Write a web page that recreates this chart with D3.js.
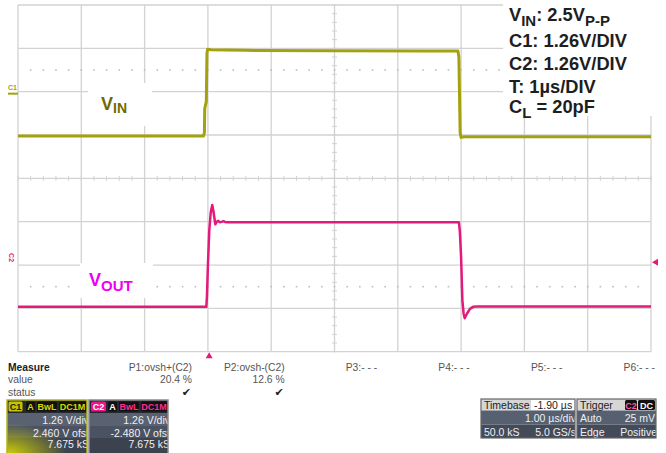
<!DOCTYPE html>
<html><head><meta charset="utf-8">
<script src="https://cdn.jsdelivr.net/npm/d3@7"></script>
<style>
body{margin:0;background:#fff}
svg{display:block;font-family:"Liberation Sans",Arial,Helvetica,sans-serif}
</style>
</head><body>
<svg id="chart" width="666" height="453"></svg>
<script>
// ---------------- data ----------------
// Channel 1 (VIN), time in µs (0..10 across screen), volts
const vinTime  = [0, 1.0, 2.0, 2.93, 2.945, 2.95, 2.975, 2.985, 2.995, 3.05, 3.3, 3.6, 5.0, 6.5, 6.95, 6.965, 6.975, 6.985, 7.0, 7.05, 7.5, 8.5, 10];
const vinVolts = [0, 0.0, 0.0, 0.0, 0.10, 0.80, 1.00, 2.40, 2.52, 2.51, 2.50, 2.49, 2.48, 2.47, 2.47, 2.30, 1.20, 0.10, -0.04, -0.02, -0.02, -0.02, -0.02];
// Channel 2 (VOUT)
const voutTime  = [0, 1.0, 2.0, 2.975, 2.985, 3.0, 3.022, 3.045, 3.069, 3.09, 3.117, 3.14, 3.164, 3.19, 3.218, 3.245, 3.27, 3.32, 4.5, 6.0, 6.965, 6.98, 7.0, 7.02, 7.04, 7.057, 7.08, 7.109, 7.14, 7.188, 7.25, 8.5, 10];
const voutVolts = [0, 0.0, 0.0, 0.0, 0.30, 1.20, 2.23, 2.75, 2.96, 2.75, 2.40, 2.47, 2.50, 2.46, 2.47, 2.49, 2.47, 2.46, 2.46, 2.46, 2.46, 2.20, 1.45, 0.19, -0.20, -0.33, -0.24, -0.15, -0.06, 0.0, 0.01, 0.01, 0.01];

const voltsPerDiv = [1.26, 1.26];
const chZeroDiv   = [0.977, -2.965];   // where 0 V of each channel sits, in divisions from centre
const triggerTime = 3.02;              // µs
const triggerLevel = 1.3;              // V on C2 (screen marker)
const channelMarkDiv = [2.0, -1.84];

const noteLines = [
  [["V",0],["IN",1],[": 2.5V",0],["P-P",1]],
  [["C1: 1.26V/DIV",0]],
  [["C2: 1.26V/DIV",0]],
  [["T: 1µs/DIV",0]],
  [["C",0],["L",1],[" = 20pF",0]]
];
const measureNames  = ["P1:ovsh+(C2)","P2:ovsh-(C2)","P3:- - -","P4:- - -","P5:- - -","P6:- - -"];
const measureValues = ["20.4 %","12.6 %","","","",""];
const measureStatus = ["✔","✔","","","",""];
const rowLabels = ["Measure","value","status"];

const ch1Info = ["1.26 V/div","2.460 V ofst","7.675 kS"];
const ch2Info = ["1.26 V/div","-2.480 V ofst","7.675 kS"];
const timebaseInfo = ["Timebase","-1.90 µs","1.00 µs/div","50.0 kS","5.0 GS/s"];
const triggerInfo  = ["Trigger","Auto","25 mV","Edge","Positive"];

// ---------------- layout ----------------
const svg = d3.select("#chart");
const W = 666, H = 453;
const plot = {l:18, r:651, t:5, b:351.7};
const x = d3.scaleLinear().domain([0,10]).range([plot.l, plot.r]);
const yDiv = d3.scaleLinear().domain([-4,4]).range([plot.b, plot.t]);
const chY = c => v => yDiv(v / voltsPerDiv[c] + chZeroDiv[c]);

const gridColor = "#d2d2d2";
const yellow = "#a3a10c", pink = "#e3197c";

svg.append("rect").attr("width",W).attr("height",H).attr("fill","#fff");

// grid
const grid = svg.append("g");
grid.selectAll("line.v").data(d3.range(0,11)).join("line")
  .attr("x1",d=>x(d)).attr("x2",d=>x(d)).attr("y1",plot.t).attr("y2",plot.b)
  .attr("stroke",gridColor).attr("stroke-width",1.3);
grid.selectAll("line.h").data(d3.range(-4,5)).join("line")
  .attr("y1",d=>yDiv(d)).attr("y2",d=>yDiv(d)).attr("x1",plot.l).attr("x2",plot.r)
  .attr("stroke",gridColor).attr("stroke-width",1.3);
// minor ticks on centre lines
grid.selectAll("line.tx").data(d3.range(0,10.001,0.2)).join("line")
  .attr("x1",d=>x(d)).attr("x2",d=>x(d)).attr("y1",yDiv(0)-2.5).attr("y2",yDiv(0)+2.5)
  .attr("stroke",gridColor).attr("stroke-width",1);
grid.selectAll("line.ty").data(d3.range(-4,4.001,0.2)).join("line")
  .attr("y1",d=>yDiv(d)).attr("y2",d=>yDiv(d)).attr("x1",x(5)-2.5).attr("x2",x(5)+2.5)
  .attr("stroke",gridColor).attr("stroke-width",1);
// dotted lines
[2.5,-2.5].forEach(lv=>{
  grid.selectAll(null).data(d3.range(0.2,9.9,0.2)).join("rect")
    .attr("x",d=>x(d)-0.8).attr("y",yDiv(lv)-0.8).attr("width",1.6).attr("height",1.6)
    .attr("fill","#bdbdbd");
});

// white label boxes
svg.append("rect").attr("x",88).attr("y",83).attr("width",64).attr("height",43).attr("fill","#fff");
svg.append("rect").attr("x",80).attr("y",263).attr("width",73).attr("height",35).attr("fill","#fff");
svg.append("rect").attr("x",503).attr("y",0).attr("width",152).attr("height",116).attr("fill","#fff");

// traces
const line1 = d3.line().x(d=>x(d[0])).y(d=>chY(0)(d[1]));
const line2 = d3.line().x(d=>x(d[0])).y(d=>chY(1)(d[1]));
svg.append("path").attr("d",line1(d3.zip(vinTime,vinVolts)))
  .attr("fill","none").attr("stroke",yellow).attr("stroke-width",3).attr("stroke-linejoin","round");
svg.append("path").attr("d",line2(d3.zip(voutTime,voutVolts)))
  .attr("fill","none").attr("stroke",pink).attr("stroke-width",2.5).attr("stroke-linejoin","round");

// trace labels
const lbl1 = svg.append("text").attr("x",101).attr("y",109.5).attr("fill","#6f6b00")
  .attr("font-weight","bold").attr("font-size",18);
lbl1.append("tspan").text("V");
lbl1.append("tspan").attr("dy",3.5).attr("font-size",14).text("IN");
const lbl2 = svg.append("text").attr("x",89).attr("y",286).attr("fill","#f000f0")
  .attr("font-weight","bold").attr("font-size",18);
lbl2.append("tspan").text("V");
lbl2.append("tspan").attr("dy",5).attr("font-size",15).text("OUT");

// notes
const noteBase = [21, 47, 70, 93, 113];
noteLines.forEach((segs,i)=>{
  const t = svg.append("text").attr("x",509).attr("y",noteBase[i]).attr("fill","#1e1e1e")
    .attr("font-weight","bold").attr("font-size",18.3);
  let sub = 0;
  segs.forEach(([s,isSub])=>{
    const sp = t.append("tspan").text(s);
    if(isSub && !sub){ sp.attr("dy",4.5).attr("font-size",15); sub=1; }
    else if(isSub){ sp.attr("font-size",15); }
    else if(sub){ sp.attr("dy",-4.5); sub=0; }
  });
});

// channel markers
svg.append("text").attr("x",8).attr("y",yDiv(channelMarkDiv[0])-2).attr("fill",yellow)
  .attr("font-size",7).attr("font-weight","bold").text("C1");
svg.append("rect").attr("x",8).attr("y",yDiv(channelMarkDiv[0])+1).attr("width",10).attr("height",2).attr("fill",yellow);
svg.append("text").attr("transform",`translate(9,${yDiv(channelMarkDiv[1])-5}) rotate(90)`)
  .attr("fill",pink).attr("font-size",7).attr("font-weight","bold").text("C2");
// trigger markers
const tx = x(triggerTime);
svg.append("path").attr("d",`M${tx-3.5},${plot.b+6.5}L${tx+3.5},${plot.b+6.5}L${tx},${plot.b+0.5}Z`).attr("fill",pink);
const ty = chY(1)(triggerLevel);
svg.append("path").attr("d",`M${plot.r+1},${ty}L${plot.r+7},${ty-3.5}L${plot.r+7},${ty+3.5}Z`).attr("fill",pink);

// measure table
const mx = d3.scaleLinear().domain([0,5]).range([192,655]);
const rowY = [370.5, 383, 396];
rowLabels.forEach((r,i)=>svg.append("text").attr("x",8).attr("y",rowY[i]).attr("fill",i?"#555":"#222")
  .attr("font-size",10.3).attr("font-weight",i?"normal":"bold").text(r));
measureNames.forEach((n,i)=>{
  svg.append("text").attr("x",mx(i)).attr("y",rowY[0]).attr("text-anchor","end").attr("fill","#555").attr("font-size",10.3).text(n);
  if(measureValues[i]) svg.append("text").attr("x",mx(i)).attr("y",rowY[1]).attr("text-anchor","end").attr("fill","#555").attr("font-size",10.3).text(measureValues[i]);
  if(measureStatus[i]) svg.append("text").attr("x",mx(i)-1).attr("y",rowY[2]).attr("text-anchor","end").attr("fill","#222").attr("font-size",11).attr("font-family","DejaVu Sans").text(measureStatus[i]);
});

// defs
const defs = svg.append("defs");
const rg = defs.append("radialGradient").attr("id","yglow").attr("cx","0%").attr("cy","100%").attr("r","75%");
rg.append("stop").attr("offset","0%").attr("stop-color","#d6d600").attr("stop-opacity",0.95);
rg.append("stop").attr("offset","100%").attr("stop-color","#d6d600").attr("stop-opacity",0);

function chanBox(id, bx, by, bw, bh, border, badges, info, glow){
  defs.append("clipPath").attr("id",id).append("rect").attr("x",bx).attr("y",by).attr("width",bw).attr("height",bh);
  const g = svg.append("g").attr("clip-path",`url(#${id})`);
  const rows = [[by,13,"#25282e"],[by+13,13,"#5a6271"],[by+26,12,"#4b5261"],[by+38,bh-38,"#3c424e"]];
  rows.forEach(r=>g.append("rect").attr("x",bx).attr("y",r[0]).attr("width",bw).attr("height",r[1]).attr("fill",r[2]));
  if(glow) g.append("rect").attr("x",bx).attr("y",by+13).attr("width",bw).attr("height",bh-13).attr("fill","url(#yglow)");
  badges.forEach(b=>{
    g.append("rect").attr("x",b.x).attr("y",by+1.5).attr("width",b.w).attr("height",10).attr("rx",1.5).attr("fill",b.bg);
    g.append("text").attr("x",b.x+b.w/2).attr("y",by+10).attr("text-anchor","middle").attr("fill",b.fg)
      .attr("font-size",9).attr("font-weight","bold").text(b.t);
  });
  const ys=[by+24,by+36.5,by+48];
  info.forEach((s,i)=>g.append("text").attr("x",bx+bw+2).attr("y",ys[i]).attr("text-anchor","end")
    .attr("fill","#eef0f2").attr("font-size",10.5).text(s));
  svg.append("rect").attr("x",bx).attr("y",by).attr("width",bw).attr("height",bh).attr("fill","none")
    .attr("stroke",border).attr("stroke-width",1.5);
}
chanBox("cb1",7,400,80,54,"#b4b41a",[
  {x:8.5,w:14,t:"C1",bg:"#c4c400",fg:"#222"},
  {x:26,w:9,t:"A",bg:"#111",fg:"#d8d800"},
  {x:37,w:20,t:"BwL",bg:"#111",fg:"#d8d800"},
  {x:59,w:27,t:"DC1M",bg:"#111",fg:"#d8d800"}],ch1Info,true);
chanBox("cb2",89,400,79,54,"#8a8a8a",[
  {x:91,w:15,t:"C2",bg:"#f0148c",fg:"#fff"},
  {x:108,w:9,t:"A",bg:"#111",fg:"#fff"},
  {x:119,w:20,t:"BwL",bg:"#111",fg:"#ff2a96"},
  {x:141,w:26,t:"DC1M",bg:"#111",fg:"#ff2a96"}],ch2Info,false);

function infoBox(id,bx,by,bw,bh,lines,isTrig){
  defs.append("clipPath").attr("id",id).append("rect").attr("x",bx).attr("y",by).attr("width",bw).attr("height",bh);
  const g = svg.append("g").attr("clip-path",`url(#${id})`);
  g.append("rect").attr("x",bx).attr("y",by).attr("width",bw).attr("height",11.5).attr("fill","#d6d6d6");
  g.append("rect").attr("x",bx).attr("y",by+11.5).attr("width",bw).attr("height",14).attr("fill","#566070");
  g.append("rect").attr("x",bx).attr("y",by+25.5).attr("width",bw).attr("height",bh-25.5).attr("fill","#434a58");
  g.append("text").attr("x",bx+3).attr("y",by+9.5).attr("fill","#222").attr("font-size",10.5).text(lines[0]);
  if(!isTrig){
    g.append("rect").attr("x",bx+50).attr("y",by+1).attr("width",bw-50).attr("height",10).attr("fill","#fff");
    g.append("text").attr("x",bx+53).attr("y",by+9.5).attr("fill","#222").attr("font-size",10.5).text(lines[1]);
    g.append("text").attr("x",bx+bw+1).attr("y",by+22.5).attr("text-anchor","end").attr("fill","#eef0f2").attr("font-size",10.5).text(lines[2]);
    g.append("text").attr("x",bx+3).attr("y",by+36.5).attr("fill","#eef0f2").attr("font-size",10.5).text(lines[3]);
    g.append("text").attr("x",bx+bw+1).attr("y",by+36.5).attr("text-anchor","end").attr("fill","#eef0f2").attr("font-size",10.5).text(lines[4]);
  } else {
    [["C2",bx+48,12,"#ff5aa8"],["DC",bx+61,17,"#fff"]].forEach(b=>{
      g.append("rect").attr("x",b[1]).attr("y",by+1).attr("width",b[2]).attr("height",10).attr("rx",1.5).attr("fill","#111");
      g.append("text").attr("x",b[1]+b[2]/2).attr("y",by+9.5).attr("text-anchor","middle").attr("fill",b[3]).attr("font-size",9).attr("font-weight","bold").text(b[0]);
    });
    g.append("text").attr("x",bx+3).attr("y",by+22.5).attr("fill","#eef0f2").attr("font-size",10.5).text(lines[1]);
    g.append("text").attr("x",bx+bw-1).attr("y",by+22.5).attr("text-anchor","end").attr("fill","#eef0f2").attr("font-size",10.5).text(lines[2]);
    g.append("text").attr("x",bx+3).attr("y",by+36.5).attr("fill","#eef0f2").attr("font-size",10.5).text(lines[3]);
    g.append("text").attr("x",bx+bw+1).attr("y",by+36.5).attr("text-anchor","end").attr("fill","#eef0f2").attr("font-size",10.5).text(lines[4]);
  }
  svg.append("rect").attr("x",bx).attr("y",by).attr("width",bw).attr("height",bh).attr("fill","none")
    .attr("stroke","#666").attr("stroke-width",1.2);
}
infoBox("tb",481,399,94,39,timebaseInfo,false);
infoBox("tr",577,399,79,39,triggerInfo,true);
</script>
</body></html>
